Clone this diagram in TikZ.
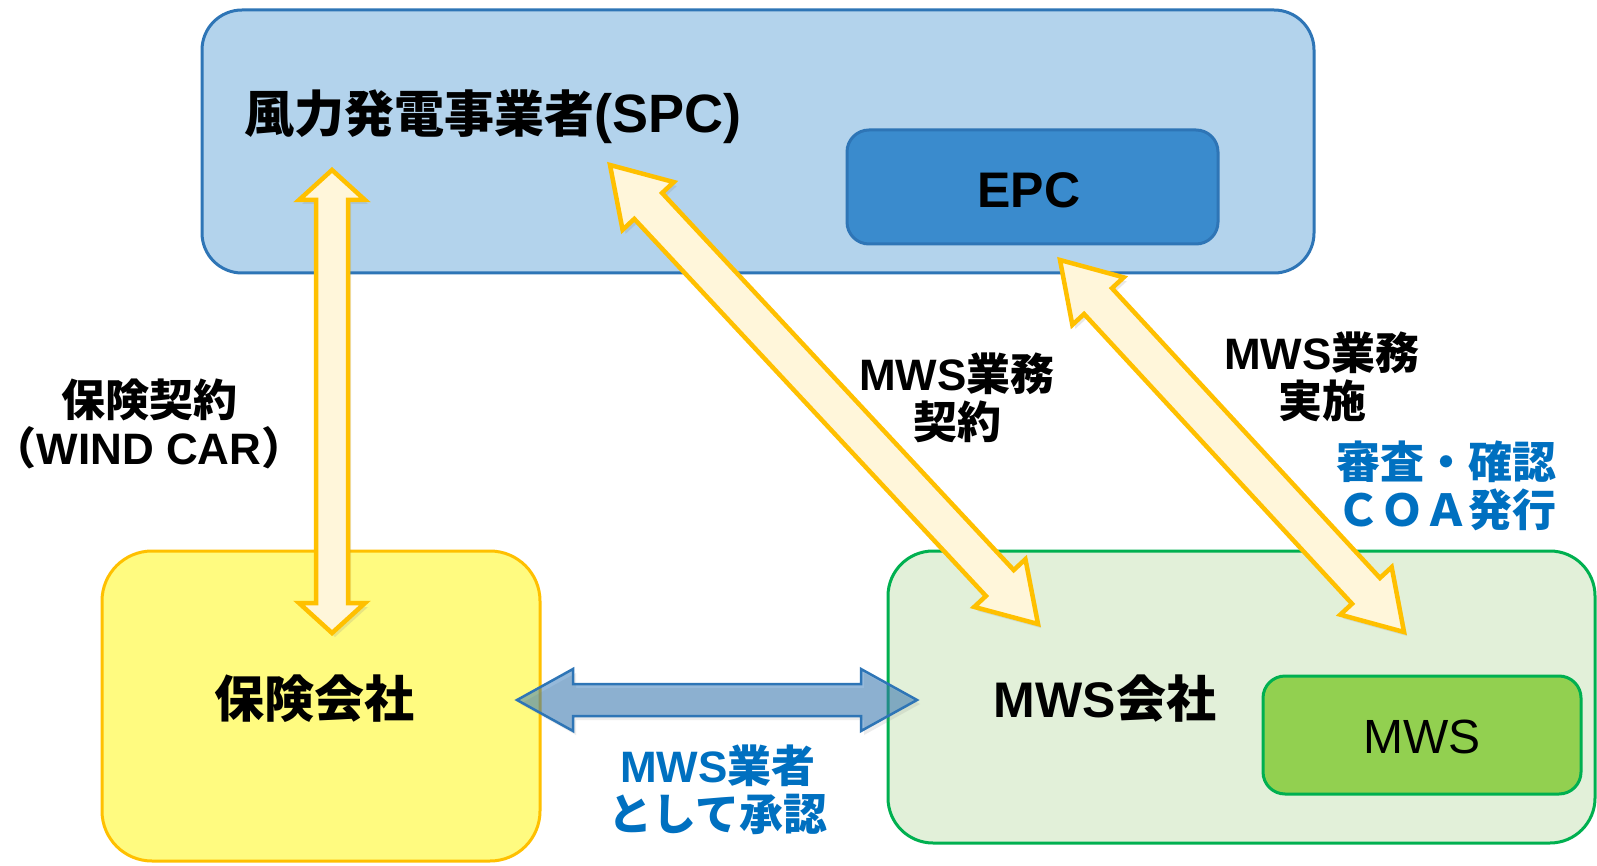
\documentclass[tikz,border=0pt]{standalone}
\usepackage{fontspec}
\setmainfont{Noto Sans CJK JP}
\newfontfamily\lat{Liberation Sans}
\usetikzlibrary{calc,shadows}

\definecolor{spcfill}{HTML}{B3D3EC}
\definecolor{spcline}{HTML}{2E75B6}
\definecolor{epcfill}{HTML}{3A8BCD}
\definecolor{insfill}{HTML}{FFFB80}
\definecolor{insline}{HTML}{FFC000}
\definecolor{mwsfill}{HTML}{E2F0D9}
\definecolor{mwsline}{HTML}{00B050}
\definecolor{mwsinner}{HTML}{92D050}
\definecolor{cream}{HTML}{FFF6DA}
\definecolor{bluetext}{HTML}{0070C0}

% block double arrow from #2 to #3: shaft half width #4, head half width #5, head length #6
\newcommand\blockarrow[6][]{%
  \draw[#1] let \p1=($(#3)-(#2)$), \n1={atan2(\y1,\x1)} in
    (#2)
    -- ($(#2)+(\n1:#6)+(\n1+90:#5)$)
    -- ($(#2)+(\n1:#6)+(\n1+90:#4)$)
    -- ($(#3)-(\n1:#6)+(\n1+90:#4)$)
    -- ($(#3)-(\n1:#6)+(\n1+90:#5)$)
    -- (#3)
    -- ($(#3)-(\n1:#6)-(\n1+90:#5)$)
    -- ($(#3)-(\n1:#6)-(\n1+90:#4)$)
    -- ($(#2)+(\n1:#6)-(\n1+90:#4)$)
    -- ($(#2)+(\n1:#6)-(\n1+90:#5)$)
    -- cycle;}

\tikzset{
  box/.style={line width=3pt},
  title/.style={inner sep=0pt, font=\bfseries\fontsize{50}{56}\selectfont},
  label/.style={font=\bfseries\fontsize{44}{48}\selectfont, align=center, inner sep=0pt},
  yarrow/.style={fill=cream, draw=insline, line width=4.5pt, line join=miter,
    drop shadow={opacity=0.18, shadow xshift=3pt, shadow yshift=-4pt}},
  barrow/.style={fill=spcline, fill opacity=0.5, draw=spcline, draw opacity=1, line width=2.5pt,
    line join=miter, drop shadow={opacity=0.15, shadow xshift=3pt, shadow yshift=-4pt}},
}

\begin{document}
\begin{tikzpicture}[x=1pt, y=-1pt]
\useasboundingbox (0,0) rectangle (1597,866);
\fill[white] (0,0) rectangle (1597,866);

% boxes
\draw[box, fill=spcfill, draw=spcline, rounded corners=40pt] (202,10) rectangle (1314,273);
\draw[box, fill=epcfill, draw=spcline, rounded corners=22pt] (847,130) rectangle (1218,244);
\draw[box, fill=insfill, draw=insline, rounded corners=50pt] (102,551) rectangle (540,861);
\draw[box, fill=mwsfill, draw=mwsline, rounded corners=45pt] (888,551) rectangle (1595,843);
\draw[box, fill=mwsinner, draw=mwsline, rounded corners=22pt] (1263,676) rectangle (1581,794);

% box titles
\node[title, anchor=west] (spc) at (244,117) {風力発電事業者{\lat\fontsize{54}{56}\selectfont(SPC)}};
\node[title] (epc) at (1029,190) {\lat EPC};
\node[title] (ins) at (314,699) {保険会社};
\node[title] (mwsco) at (1105,699) {{\lat MWS}会社};
\node[inner sep=0pt, font=\lat\fontsize{48}{54}\selectfont] (mws) at (1422,737) {MWS};

% arrow end points
\coordinate (a1) at (332,170);
\coordinate (a2) at (332,633);
\coordinate (b1) at (517,700);
\coordinate (b2) at (917,700);
\coordinate (c1) at (610,165);
\coordinate (c2) at (1038,624);
\coordinate (d1) at (1060,260);
\coordinate (d2) at (1404,632);

\blockarrow[yarrow]{a1}{a2}{16pt}{33pt}{30pt}
\blockarrow[yarrow]{c1}{c2}{19pt}{35pt}{56pt}
\blockarrow[yarrow]{d1}{d2}{19pt}{35pt}{56pt}
\blockarrow[barrow]{b1}{b2}{16pt}{31pt}{56pt}

% connector labels (full-width parentheses trimmed of their outer blank half)
\node[label] (l1) at (149,424) {保険契約\\\makebox[0.6em][r]{（}{\lat WIND CAR}\makebox[0.6em][l]{）}};
\node[label] (l2) at (957,398) {{\lat MWS}業務\\契約};
\node[label] (l3) at (1322,377) {{\lat MWS}業務\\実施};
\node[label, text=bluetext] (l4) at (1446,486) {審査・確認\\ＣＯＡ発行};
\node[label, text=bluetext] (l5) at (718,790) {{\lat MWS}業者\\として承認};
\end{tikzpicture}
\end{document}
